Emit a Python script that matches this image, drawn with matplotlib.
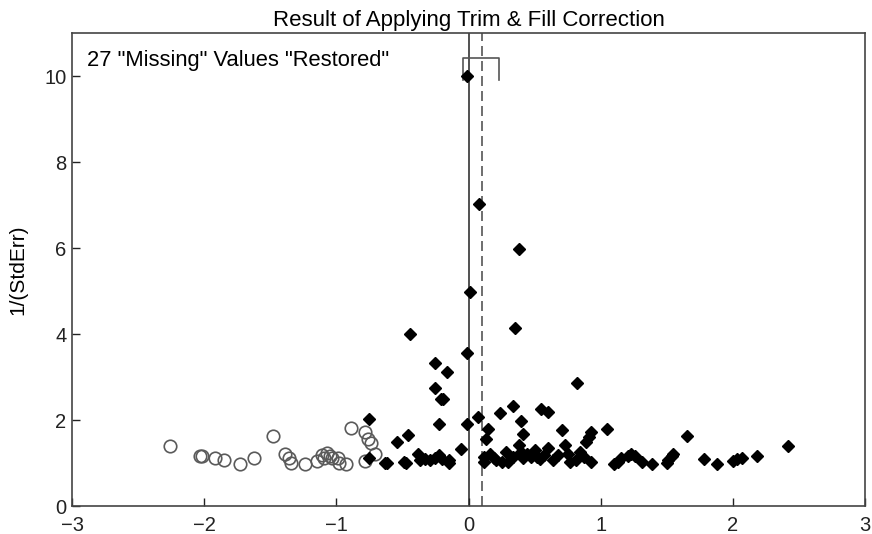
import matplotlib
matplotlib.use("Agg")
import matplotlib.pyplot as plt

plt.rcParams['font.family'] = ['Liberation Sans', 'DejaVu Sans']

# Observed studies (filled diamonds): effect size, 1/(StdErr)
obs_x = [-0.01, 0.08, 0.38, 0.01, -0.44, 0.35, -0.01, -0.25, -0.16, -0.25, -0.21, -0.19,
         0.82, 0.34, 0.55, 0.60, 0.07, 0.24, 0.40, -0.22, -0.01, 0.15, 0.71, 1.05,
         0.93, 0.91, 0.89, -0.46, -0.54, 0.41, 0.13, -0.06, -0.75, -0.75, -0.63,
         -0.62, -0.49, -0.47, -0.38, -0.37, -0.33, -0.29, -0.25, -0.22, -0.20, -0.15, -0.15,
         0.38, 0.73, 0.16, 0.28, 0.40, 0.50, 0.60, 0.84, 0.68, 0.75,
         0.12, 0.21, 0.25, 0.30, 0.34, 0.41, 0.47, 0.54, 0.57, 0.64, 0.77, 0.81, 0.87, 0.93,
         0.12, 0.19, 0.44, 0.52,
         1.10, 1.13, 1.15, 1.21, 1.23, 1.26, 1.31, 1.39, 1.50, 1.51, 1.54, 1.55,
         1.65, 2.42, 1.78, 1.88, 2.00, 2.03, 2.07, 2.18]
obs_y = [10.0, 7.03, 5.98, 4.98, 3.99, 4.15, 3.55, 3.33, 3.11, 2.75, 2.49, 2.49,
         2.85, 2.33, 2.25, 2.19, 2.08, 2.16, 1.98, 1.91, 1.91, 1.78, 1.77, 1.79,
         1.73, 1.61, 1.50, 1.65, 1.48, 1.67, 1.55, 1.32, 2.02, 1.12, 1.01,
         1.01, 1.03, 0.99, 1.20, 1.07, 1.09, 1.07, 1.11, 1.19, 1.09, 1.07, 1.00,
         1.43, 1.42, 1.22, 1.26, 1.26, 1.30, 1.34, 1.26, 1.19, 1.22,
         1.03, 1.07, 1.03, 1.03, 1.15, 1.11, 1.15, 1.09, 1.19, 1.07, 1.03, 1.07, 1.15, 1.03,
         1.15, 1.12, 1.20, 1.13,
         0.98, 1.03, 1.11, 1.16, 1.22, 1.16, 1.03, 0.97, 0.99, 1.07, 1.16, 1.22,
         1.62, 1.40, 1.09, 0.98, 1.05, 1.09, 1.12, 1.16]

# Imputed ("restored") studies (open circles)
fill_x = [-2.26, -2.03, -2.02, -1.92, -1.85, -1.73, -1.62, -1.48, -1.39, -1.36, -1.34,
          -1.24, -1.15, -1.11, -1.07, -1.09, -1.05, -1.03, -0.99, -0.98, -0.93, -0.89,
          -0.78, -0.76, -0.74, -0.78, -0.71]
fill_y = [1.40, 1.16, 1.17, 1.12, 1.07, 0.98, 1.11, 1.62, 1.22, 1.12, 0.99,
          0.98, 1.05, 1.19, 1.23, 1.12, 1.16, 1.11, 1.11, 0.99, 0.98, 1.81,
          1.73, 1.56, 1.46, 1.05, 1.20]

orig_mean = 0.0
adj_mean = 0.10
ci_low, ci_high = -0.04, 0.23
ci_level, ci_tick = 10.43, 9.9

x_ticks = [-3, -2, -1, 0, 1, 2, 3]
y_ticks = [0, 2, 4, 6, 8, 10]

fig = plt.figure(figsize=(8.72, 5.34), dpi=100)
ax = fig.add_axes([0.0826, 0.0524, 0.9094, 0.8856])

ax.axvline(orig_mean, color='#333333', lw=1.2, zorder=1)
ax.axvline(adj_mean, color='#555555', lw=1.2, ls=(0, (6, 3)), zorder=1)
ax.plot([ci_low, ci_low, ci_high, ci_high], [ci_tick, ci_level, ci_level, ci_tick],
        color='#555555', lw=1.2, zorder=1)

ax.plot(fill_x, fill_y, ls='none', marker='o', ms=9, mfc='none', mec='#5a5a5a', mew=1.2, zorder=2)
ax.plot(obs_x, obs_y, ls='none', marker='D', ms=6.3, mfc='black', mec='black', zorder=3)

ax.set_xlim(-3, 3)
ax.set_ylim(0, 11)
ax.set_xticks(x_ticks)
ax.set_yticks(y_ticks)
ax.set_xticklabels(['\u22123', '\u22122', '\u22121', '0', '1', '2', '3'])
ax.tick_params(direction='in', length=6, width=1, labelsize=14.5, colors='#222222')
ax.tick_params(axis='x', pad=7)
ax.tick_params(axis='y', pad=4)
for s in ax.spines.values():
    s.set_color('#444444')
    s.set_linewidth(1.2)

ax.set_title('Result of Applying Trim & Fill Correction', fontsize=16, pad=5)
ax.set_ylabel('1/(StdErr)', fontsize=15, labelpad=12)
ax.text(0.019, 0.965, '27 "Missing" Values "Restored"', transform=ax.transAxes,
        fontsize=15.8, va='top', ha='left')

fig.savefig('out.png', dpi=100)
